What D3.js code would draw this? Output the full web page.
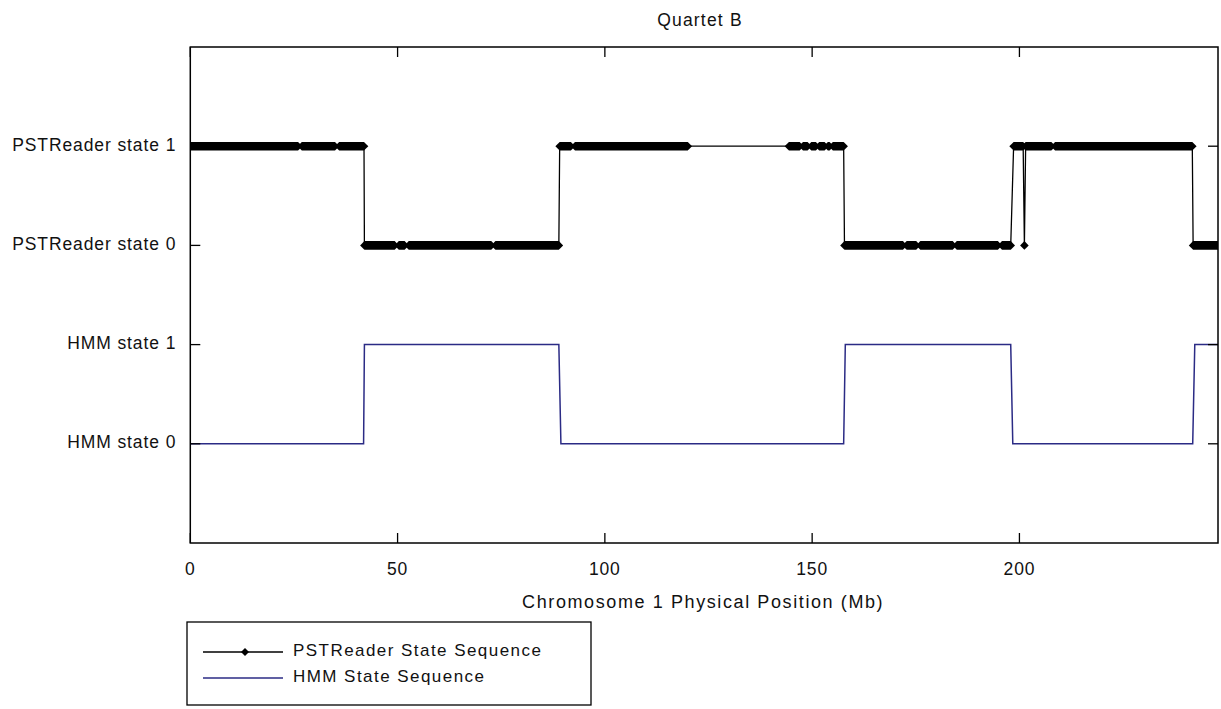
<!DOCTYPE html>
<meta charset="utf-8">
<script src="https://d3js.org/d3.v7.min.js"></script>
<style>
  body { margin: 0; background: #fff; }
  text { font-family: "Liberation Sans", Arial, sans-serif; fill: #111; }
</style>
<div id="chart"></div>
<script>
// y levels: 0 = HMM state 0, 1 = HMM state 1, 2 = PSTReader state 0, 3 = PSTReader state 1
var yTickValues = [0, 1, 2, 3];
var yTickLabels = ["HMM state 0", "HMM state 1", "PSTReader state 0", "PSTReader state 1"];
var xTickValues = [0, 50, 100, 150, 200];

// PSTReader sequence, read as runs of densely packed markers (Mb)
var pstRunStart = [0, 26.9, 35.9, 42.0, 50.3, 52.7, 73.6, 89.1, 92.8, 144.4, 147.8, 149.8, 151.7, 153.8, 155.0,
                   157.8, 172.8, 176.1, 184.9, 195.8, 198.6, 201.2, 201.5, 208.6, 241.9];
var pstRunEnd   = [26.0, 34.9, 41.9, 49.3, 51.7, 72.6, 88.9, 91.8, 120.0, 147.0, 148.9, 150.9, 153.0, 154.2, 157.6,
                   171.9, 175.1, 183.9, 194.8, 197.9, 200.9, 201.2, 207.7, 241.7, 247.9];
var pstRunState = [1, 1, 1, 0, 0, 0, 0, 1, 1, 1, 1, 1, 1, 1, 1,
                   0, 0, 0, 0, 0, 1, 0, 1, 1, 0];

// HMM state sequence (Mb, state)
var hmmPos   = [0, 41.8, 42.0, 88.9, 89.4, 157.6, 158.0, 197.9, 198.4, 241.8, 242.3, 247.9];
var hmmState = [0, 0, 1, 1, 0, 0, 1, 1, 0, 0, 1, 1];

var W = 1221, H = 709;
var plot = {left: 190.3, right: 1218, top: 47, bottom: 543};

var svg = d3.select("#chart").append("svg")
    .attr("width", W).attr("height", H);

var x = d3.scaleLinear().domain([0, 247.9]).range([plot.left, plot.right]);
var y = d3.scaleLinear().domain([-1, 4]).range([plot.bottom, plot.top]);

svg.append("clipPath").attr("id", "clip")
  .append("rect")
    .attr("x", plot.left).attr("y", plot.top)
    .attr("width", plot.right - plot.left).attr("height", plot.bottom - plot.top);

var g = svg.append("g").attr("clip-path", "url(#clip)");

// thin line through all PSTReader points
var pstPts = [];
pstRunStart.forEach(function(s, i) {
  pstPts.push([s, pstRunState[i] + 2]);
  pstPts.push([pstRunEnd[i], pstRunState[i] + 2]);
});
var line = d3.line().x(function(d) { return x(d[0]); }).y(function(d) { return y(d[1]); });

g.append("path")
  .attr("d", line(pstPts))
  .attr("fill", "none").attr("stroke", "#000").attr("stroke-width", 1.3);

// marker runs: diamonds merged into a bar
var hm = 4.3;
g.selectAll(".run")
  .data(pstRunStart.map(function(s, i) { return {s: s, e: pstRunEnd[i], v: pstRunState[i] + 2}; }))
  .enter().append("path")
    .attr("class", "run")
    .attr("d", function(d) {
      var a = x(d.s), b = x(d.e), c = y(d.v);
      return "M" + (a - hm) + "," + c + "L" + a + "," + (c - hm) + "L" + b + "," + (c - hm) +
             "L" + (b + hm) + "," + c + "L" + b + "," + (c + hm) + "L" + a + "," + (c + hm) + "Z";
    })
    .attr("fill", "#000");

// HMM line
g.append("path")
  .attr("d", line(hmmPos.map(function(p, i) { return [p, hmmState[i]]; })))
  .attr("fill", "none").attr("stroke", "#2b2b85").attr("stroke-width", 1.5);

// axes box
svg.append("rect")
  .attr("x", plot.left).attr("y", plot.top)
  .attr("width", plot.right - plot.left).attr("height", plot.bottom - plot.top)
  .attr("fill", "none").attr("stroke", "#000").attr("stroke-width", 1.5);

var tl = 10;
// x ticks, bottom and top, inward
xTickValues.forEach(function(v) {
  svg.append("line").attr("x1", x(v)).attr("x2", x(v))
    .attr("y1", plot.bottom).attr("y2", plot.bottom - tl).attr("stroke", "#000").attr("stroke-width", 1.3);
  svg.append("line").attr("x1", x(v)).attr("x2", x(v))
    .attr("y1", plot.top).attr("y2", plot.top + tl).attr("stroke", "#000").attr("stroke-width", 1.3);
  svg.append("text").attr("x", x(v)).attr("y", plot.bottom + 27)
    .attr("text-anchor", "middle").attr("dominant-baseline", "middle")
    .style("font-size", "17.5px").style("letter-spacing", "0.8px")
    .text(v);
});

// y ticks, left and right, inward
yTickValues.forEach(function(v, i) {
  svg.append("line").attr("x1", plot.left).attr("x2", plot.left + tl)
    .attr("y1", y(v)).attr("y2", y(v)).attr("stroke", "#000").attr("stroke-width", 1.3);
  svg.append("line").attr("x1", plot.right).attr("x2", plot.right - tl)
    .attr("y1", y(v)).attr("y2", y(v)).attr("stroke", "#000").attr("stroke-width", 1.3);
  svg.append("text").attr("x", plot.left - 14).attr("y", y(v))
    .attr("text-anchor", "end").attr("dominant-baseline", "middle")
    .style("font-size", "17.5px").style("letter-spacing", "0.9px")
    .text(yTickLabels[i]);
});

// title and axis label
svg.append("text").attr("x", 700).attr("y", 21)
  .attr("text-anchor", "middle").attr("dominant-baseline", "middle")
  .style("font-size", "17.5px").style("letter-spacing", "1.2px")
  .text("Quartet B");

svg.append("text").attr("x", (plot.left + plot.right) / 2 - 1).attr("y", 603)
  .attr("text-anchor", "middle").attr("dominant-baseline", "middle")
  .style("font-size", "18px").style("letter-spacing", "1.6px")
  .text("Chromosome 1 Physical Position (Mb)");

// legend
var lg = svg.append("g");
lg.append("rect").attr("x", 187).attr("y", 622).attr("width", 404).attr("height", 83)
  .attr("fill", "#fff").attr("stroke", "#000").attr("stroke-width", 1.3);
lg.append("line").attr("x1", 203).attr("x2", 283).attr("y1", 652).attr("y2", 652)
  .attr("stroke", "#000").attr("stroke-width", 1.3);
lg.append("path").attr("d", "M241,652L245,648L249,652L245,656Z").attr("fill", "#000");
lg.append("text").attr("x", 293).attr("y", 652).attr("dominant-baseline", "middle")
  .style("font-size", "17px").style("letter-spacing", "1.45px")
  .text("PSTReader State Sequence");
lg.append("line").attr("x1", 203).attr("x2", 283).attr("y1", 678).attr("y2", 678)
  .attr("stroke", "#2b2b85").attr("stroke-width", 1.5);
lg.append("text").attr("x", 293).attr("y", 678).attr("dominant-baseline", "middle")
  .style("font-size", "17px").style("letter-spacing", "1.45px")
  .text("HMM State Sequence");
</script>
